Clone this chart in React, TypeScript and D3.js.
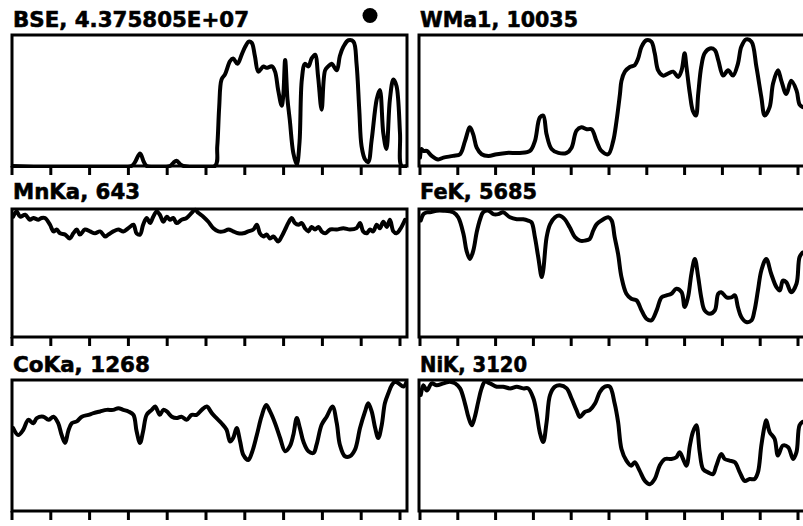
import React from "react";
import * as d3 from "d3";

// ---- data (x: scan position, 0..100 at tick marks; y: % of full scale) ----
const tickValues = [0, 10, 20, 30, 40, 50, 60, 70, 80, 90, 100];

const bseData: [number, number][] = [
  [0, 0], [30.8, 0], [31.7, 3], [33.0, 9.6], [34.0, 3], [34.7, 0], [40.7, 0], [41.6, 2.5],
  [42.4, 4], [43.5, 1], [44.2, 0], [52.3, 0], [52.9, 15], [53.4, 45], [54.0, 66], [54.9, 70],
  [56.2, 80], [57.0, 82], [58.1, 78], [59.2, 85], [60.1, 91], [61.0, 95], [61.8, 94], [62.6, 84],
  [63.5, 72], [64.8, 76], [65.6, 75], [67.0, 76], [67.8, 72], [68.6, 58], [69.5, 46], [69.9, 53],
  [70.4, 81], [71.0, 51], [71.6, 35], [72.5, 10], [73.4, 1], [74.1, 18], [74.7, 66], [75.5, 78],
  [76.4, 76], [77.2, 82], [78.1, 85], [78.9, 68], [79.8, 43], [80.7, 73], [81.5, 76], [82.4, 78],
  [83.7, 73], [84.5, 84], [85.4, 91], [86.7, 96], [88.0, 95], [88.8, 78], [89.5, 43], [90.1, 15],
  [91.0, 5], [91.8, 3], [92.7, 20], [94.0, 51], [94.8, 58], [95.7, 25], [96.5, 13], [97.4, 51],
  [98.3, 66], [99.1, 61], [100.0, 25], [100.4, 0], [101.9, 0],
];

const wmaData: [number, number][] = [
  [0, 6.4], [0.4, 13], [0.9, 11.5], [1.8, 11.5], [3.1, 7.7], [4.8, 5], [6.2, 6.4], [8.8, 7.7],
  [10.6, 9], [11.9, 19], [13.2, 29.5], [14.1, 24], [15.0, 14], [16.3, 9], [18.1, 7.7], [20.3, 9],
  [22.9, 10], [26.4, 10], [29.1, 11.5], [30.4, 19], [31.7, 37], [32.6, 38.5], [33.5, 24], [34.8, 13],
  [36.6, 10], [38.8, 10], [40.1, 14], [41.4, 27], [42.7, 29.5], [44.1, 28], [45.4, 28], [46.7, 19],
  [48.0, 11.5], [49.8, 9], [51.1, 19], [52.0, 34.6], [52.9, 55], [53.3, 65], [54.2, 72], [55.5, 75.6],
  [56.8, 77], [57.7, 82], [58.6, 91], [59.9, 96], [61.2, 94.9], [62.1, 86], [63.0, 73], [64.3, 69],
  [65.6, 70.5], [67.0, 72], [68.3, 68], [69.2, 73], [70.0, 86], [70.5, 75.6], [71.4, 55], [72.2, 42],
  [73.0, 38.5], [73.6, 55], [74.4, 75.6], [75.3, 86], [76.7, 89.7], [78.0, 88.5], [78.9, 80.8],
  [80.2, 69], [81.5, 73], [82.8, 69], [84.1, 78], [85.0, 91], [86.3, 96.7], [87.7, 94.9], [89.0, 75.6],
  [90.3, 52.6], [91.2, 38.5], [92.5, 45], [93.4, 63], [94.7, 73], [95.6, 65], [96.9, 55], [98.2, 65],
  [99.6, 57.7], [100.4, 47], [101.2, 45],
];

const mnData: [number, number][] = [
  [0.3, 94], [1.2, 98], [2.1, 94], [3.4, 95.5], [4.6, 91.6], [5.5, 93], [6.8, 91.6], [7.6, 93],
  [8.5, 93], [9.8, 87.7], [10.7, 82.5], [11.5, 84], [12.4, 81], [13.7, 80], [14.9, 77], [15.8, 81],
  [16.7, 84], [17.5, 80], [18.8, 84], [20.1, 82.5], [21.4, 81], [22.7, 82.5], [24.0, 78.5], [24.8, 80],
  [26.1, 82.5], [27.4, 84], [28.7, 82.5], [30.0, 85], [31.3, 87.7], [32.1, 81], [33.0, 80], [33.8, 87.7],
  [34.7, 93], [35.6, 89], [36.4, 94], [37.3, 98], [38.1, 95.5], [39.0, 90], [39.9, 94], [40.7, 91.6],
  [41.6, 93], [42.4, 89], [43.7, 91.6], [45.0, 93], [46.3, 97], [47.2, 99.5], [48.0, 97], [49.3, 94],
  [50.6, 90], [51.9, 85], [53.2, 82.5], [54.5, 82.5], [55.8, 84], [57.0, 82.5], [58.3, 81], [59.6, 81],
  [60.9, 82.5], [62.2, 84], [63.1, 87.7], [63.9, 81], [64.8, 78.5], [65.6, 80], [66.5, 77], [67.4, 78.5],
  [68.6, 74.6], [69.5, 78.5], [70.4, 84], [71.2, 89], [72.1, 93], [72.9, 89], [73.8, 87.7], [74.7, 89],
  [75.5, 85], [76.4, 82.5], [77.2, 86], [78.1, 84], [79.0, 86], [79.8, 82.5], [80.7, 81], [82.0, 84],
  [83.7, 84], [85.4, 85], [87.1, 84], [88.8, 85], [89.7, 89], [90.5, 82.5], [91.4, 81], [92.3, 84],
  [93.1, 82.5], [94.0, 87.7], [94.8, 85], [95.7, 90], [96.6, 86], [97.4, 91.6], [98.3, 82.5], [99.1, 81],
  [100.0, 84], [101.3, 91.6],
];

const feData: [number, number][] = [
  [0.2, 91], [0.9, 96], [1.8, 97.4], [2.6, 97.4], [4.4, 98.7], [6.2, 98.7], [8.8, 97.4], [10.1, 93.5],
  [11.5, 80.5], [12.3, 67.5], [13.2, 61], [14.1, 67.5], [15.0, 81.8], [15.9, 92], [16.7, 97.4],
  [18.1, 98.7], [19.4, 96], [20.7, 96], [22.0, 97.4], [23.8, 93.5], [25.6, 92], [27.3, 92], [28.6, 91],
  [29.5, 89.6], [30.4, 78], [31.3, 62], [32.2, 46.8], [32.6, 52], [33.5, 78], [34.4, 88], [35.7, 93.5],
  [37.0, 94.8], [38.3, 92], [39.6, 85.7], [41.0, 78], [42.3, 75.3], [43.6, 75.3], [44.9, 76.6],
  [45.8, 83], [46.7, 88], [48.0, 91], [49.8, 93.5], [50.7, 91], [51.5, 78], [52.4, 65], [53.3, 46.8],
  [54.6, 33.8], [55.9, 29.9], [57.3, 28.6], [58.6, 20.8], [59.9, 14.3], [61.2, 13], [62.6, 20.8],
  [63.9, 31], [65.2, 32.5], [66.5, 33.8], [67.8, 37.7], [69.2, 35], [70.0, 23.4], [70.9, 31],
  [71.8, 49.4], [72.7, 61], [73.6, 46.8], [74.4, 31], [75.3, 20.8], [76.7, 18.2], [78.0, 20.8],
  [78.9, 33.8], [79.7, 35], [81.1, 31], [82.4, 31], [83.3, 32.5], [84.1, 23.4], [85.0, 15.6],
  [86.3, 11.7], [87.7, 13], [88.5, 20.8], [89.4, 36.4], [90.3, 52], [91.6, 61], [92.9, 49.4],
  [94.3, 39], [95.2, 36.4], [96.0, 44], [96.9, 42.8], [98.2, 35], [99.6, 41.6], [100.4, 62.3],
  [101.2, 66],
];

const coData: [number, number][] = [
  [0.3, 63.3], [1.6, 58], [2.9, 62], [4.2, 69.6], [5.5, 67], [6.4, 70.9], [8.1, 72], [9.4, 69.6],
  [10.7, 72], [11.9, 67], [12.8, 58], [13.7, 52], [14.5, 61], [15.4, 67], [16.7, 68.4], [18.0, 72],
  [19.7, 73.4], [21.0, 74.7], [22.7, 76], [24.4, 77.2], [26.1, 77.2], [27.4, 78.5], [28.7, 77.2],
  [30.0, 76], [31.3, 73.4], [32.1, 61], [33.0, 52], [33.8, 61], [34.7, 73.4], [36.0, 77.2], [36.9, 79.7],
  [38.1, 73.4], [39.0, 77.2], [39.9, 76], [41.2, 72], [42.4, 70.9], [43.7, 72], [45.0, 69.6],
  [46.3, 73.4], [47.6, 73.4], [48.9, 77.2], [50.2, 79.7], [51.5, 74.7], [52.7, 70.9], [54.0, 67],
  [55.3, 62], [56.2, 53], [57.0, 55.7], [57.9, 63.3], [58.8, 53], [59.6, 43], [60.9, 39], [61.8, 44.3],
  [63.1, 58], [64.3, 72], [65.5, 81], [66.5, 76], [67.8, 67], [69.1, 55.7], [70.4, 45.6], [71.6, 49.4],
  [72.5, 58], [73.4, 70.9], [74.2, 63.3], [75.1, 53], [76.4, 45.6], [77.7, 44.3], [78.5, 50.6],
  [79.8, 65.8], [81.1, 72], [82.6, 79.7], [83.7, 67], [84.5, 50.6], [85.8, 41.8], [87.1, 41.8],
  [88.4, 46.8], [89.7, 63.3], [91.0, 76], [91.8, 82.3], [92.7, 76], [93.6, 63.3], [94.4, 55.7],
  [95.3, 65.8], [96.1, 82.3], [97.0, 89.9], [97.9, 96.2], [98.7, 98.7], [99.6, 97.5], [100.9, 95],
  [101.7, 98.7],
];

const niData: [number, number][] = [
  [0.2, 88.5], [0.9, 96], [1.8, 92], [3.1, 97.4], [4.4, 96], [6.2, 97.4], [7.9, 98.7], [9.3, 97.4],
  [10.6, 93.6], [11.9, 82], [12.8, 71.8], [13.7, 65.4], [14.5, 71.8], [15.4, 83.3], [16.3, 93.6],
  [17.2, 98.7], [18.5, 97.4], [20.3, 94.9], [22.0, 94.9], [23.8, 93.6], [25.6, 94.9], [27.3, 93.6],
  [28.6, 93.6], [30.0, 85.9], [30.8, 75.6], [31.7, 60], [32.6, 52.6], [33.5, 68], [34.4, 88.5],
  [35.7, 94.9], [37.0, 96], [38.8, 93.6], [40.1, 85.9], [41.4, 77], [42.3, 71.8], [43.6, 75.6],
  [44.9, 77], [46.3, 82], [47.6, 91], [48.9, 94.9], [50.2, 94.9], [51.5, 82], [52.4, 68], [53.3, 47.4],
  [54.6, 38.5], [55.9, 34.6], [56.8, 37.2], [58.1, 30.8], [59.5, 23], [60.8, 20.5], [62.1, 24.4],
  [63.4, 34.6], [64.8, 39.7], [66.5, 39.7], [67.8, 41], [68.7, 44.9], [69.6, 39.7], [70.5, 34.6],
  [71.4, 50], [72.2, 60.3], [73.1, 65.4], [74.0, 44.9], [74.9, 32], [76.2, 29.5], [77.5, 28.2],
  [78.4, 34.6], [79.7, 43.6], [80.6, 39.7], [81.9, 38.5], [83.3, 37.2], [84.6, 29.5], [85.9, 23],
  [87.2, 24.4], [88.5, 24.4], [89.4, 29.5], [90.3, 50], [91.2, 65.4], [91.6, 69.2], [92.5, 60.3],
  [93.8, 55.1], [94.7, 42.3], [96.0, 50], [97.4, 48.7], [98.7, 39.7], [99.6, 44.9], [100.4, 65.4],
  [101.2, 68],
];

const panelTitles = [
  "BSE, 4.375805E+07", "WMa1, 10035",
  "MnKa, 643", "FeK, 5685",
  "CoKa, 1268", "NiK, 3120",
];
const panelSeries = [bseData, wmaData, mnData, feData, coData, niData];

// ---- layout ----
const W = 803;
const H = 526;
const cols = [
  { frameL: 12, tick0: 12, tick1: 400, frameR: 407 },
  { frameL: 419, tick0: 420, tick1: 798, frameR: 812 },
];
const rows = [
  { top: 35, bottom: 166, base: 27 },
  { top: 209, bottom: 337, base: 199 },
  { top: 380, bottom: 511, base: 372 },
];
const titleWidths = [236, 158, 127, 117, 137, 107];

function Panel({ idx }: { idx: number }) {
  const c = cols[idx % 2];
  const r = rows[Math.floor(idx / 2)];
  const x = d3.scaleLinear().domain([0, 100]).range([c.tick0, c.tick1]);
  const y = d3.scaleLinear().domain([0, 100]).range([r.bottom, r.top]);
  const line = d3
    .line<[number, number]>()
    .x((d) => x(d[0]))
    .y((d) => y(d[1]))
    .curve(d3.curveCatmullRom.alpha(0.5));
  const data = panelSeries[idx];
  const clipId = `clip${idx}`;
  return (
    <g>
      <clipPath id={clipId}>
        <rect x={c.frameL} y={r.top - 2} width={c.frameR - c.frameL} height={r.bottom - r.top + 4} />
      </clipPath>
      <text
        x={c.frameL + 1}
        y={r.base}
        fontFamily="'DejaVu Sans', sans-serif"
        fontWeight="bold"
        fontSize={22}
        textLength={titleWidths[idx]}
        lengthAdjust="spacingAndGlyphs"
        fill="#000"
        stroke="#000"
        strokeWidth={0.6}
      >
        {panelTitles[idx]}
      </text>
      <path
        d={line(data) ?? ""}
        fill="none"
        stroke="#000"
        strokeWidth={4}
        strokeLinejoin="round"
        strokeLinecap="round"
        clipPath={`url(#${clipId})`}
      />
      <rect
        x={c.frameL}
        y={r.top}
        width={c.frameR - c.frameL}
        height={r.bottom - r.top}
        fill="none"
        stroke="#000"
        strokeWidth={3}
      />
      {tickValues.map((t) => (
        <line
          key={t}
          x1={x(t)}
          x2={x(t)}
          y1={r.bottom}
          y2={r.bottom + 9}
          stroke="#000"
          strokeWidth={3}
        />
      ))}
    </g>
  );
}

export default function App() {
  return (
    <svg
      width={W}
      height={H}
      viewBox={`0 0 ${W} ${H}`}
      style={{ position: "absolute", left: 0, top: 0, background: "#fff", display: "block" }}
    >
      <rect x={0} y={0} width={W} height={H} fill="#fff" />
      {panelTitles.map((_, i) => (
        <Panel key={i} idx={i} />
      ))}
      <circle cx={370} cy={15.5} r={7.5} fill="#000" />
    </svg>
  );
}
